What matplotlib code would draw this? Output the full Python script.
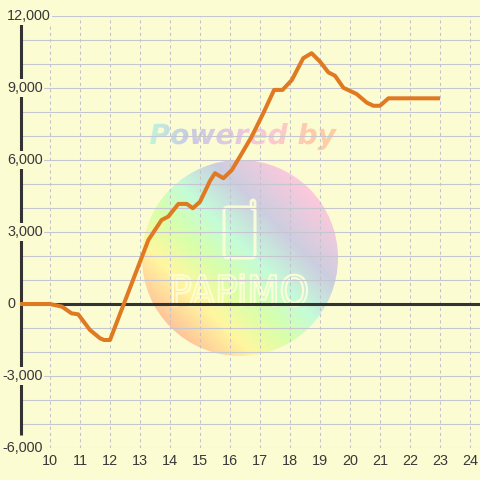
import numpy as np
import matplotlib
matplotlib.use('Agg')
import matplotlib.pyplot as plt
from matplotlib.patches import Circle, PathPatch, FancyBboxPatch
from matplotlib.textpath import TextPath
from matplotlib.font_manager import FontProperties
from matplotlib.transforms import Affine2D
from matplotlib.colors import to_rgb

# ---- data ----
hours = [9.0, 10.0, 10.4, 10.72, 10.94, 11.33, 11.67, 11.8, 12.0, 13.28, 13.72,
         13.94, 14.28, 14.56, 14.76, 15.0, 15.33, 15.5, 15.78, 16.06, 16.33,
         16.72, 17.11, 17.47, 17.75, 18.06, 18.44, 18.72, 19.0, 19.28, 19.5,
         19.78, 20.22, 20.56, 20.78, 21.0, 21.28, 23.0]
profit = [0, 0, -110, -390, -430, -1080, -1430, -1500, -1500, 2670, 3500,
          3640, 4170, 4170, 3990, 4260, 5120, 5450, 5240, 5580, 6140,
          6970, 7950, 8920, 8920, 9330, 10240, 10450, 10100, 9650, 9510,
          9010, 8750, 8390, 8260, 8260, 8570, 8570]
x_ticks = list(range(10, 25))
y_label_values = [-6000, -3000, 0, 3000, 6000, 9000, 12000]

BG = '#FCFCD3'
TXT = '#383838'
FONT = 'Liberation Sans'

fig = plt.figure(figsize=(4.8, 4.8), dpi=100, facecolor=BG)

# ---- watermark layer (pixel coordinates) ----
wax = fig.add_axes([0, 0, 1, 1], zorder=0)
wax.axis('off')
wax.patch.set_alpha(0)


def gradient(stops, s):
    pos = np.array([p for p, _ in stops])
    cols = np.array([to_rgb(c) for _, c in stops])
    out = np.zeros(s.shape + (3,))
    for k in range(3):
        out[..., k] = np.interp(s, pos, cols[:, k])
    return out

cx, cy, R = 240, 258, 98
N = 300
px = np.linspace(cx - R, cx + R, N)
py = np.linspace(cy - R, cy + R, N)
PX, PY = np.meshgrid(px, py)
u = ((PX - cx) - (PY - cy)) / np.sqrt(2) / R
s = (u + 1) / 2
circ_stops = [(0.0, '#FFC498'), (0.2, '#FFF7A0'), (0.38, '#D8FFAA'),
              (0.55, '#C4FCD8'), (0.75, '#CCCEE0'), (1.0, '#FFC8DC')]
img = gradient(circ_stops, s)
circ = Circle((cx, cy), R, transform=wax.transData, fc='none', ec='none')
wax.add_patch(circ)
im = wax.imshow(img, extent=(cx - R, cx + R, cy + R, cy - R), aspect='auto',
                interpolation='bilinear')
im.set_clip_path(circ)

# Powered by text with gradient fill
fp = FontProperties(family='DejaVu Sans', weight='bold', style='italic')
tp = TextPath((0, 0), 'Powered by', size=1, prop=fp)
ext = tp.get_extents()
x0, x1, y0, y1 = 150, 337, 123, 150
tr = Affine2D().translate(-ext.x0, -ext.y1).scale((x1 - x0) / ext.width,
                                                   -(y1 - y0) / ext.height).translate(x0, y0)
pp = PathPatch(tr.transform_path(tp), fc='none', ec='none', transform=wax.transData)
wax.add_patch(pp)
tx = np.linspace(0, 1, 400)[None, :].repeat(10, axis=0)
txt_stops = [(0.0, '#C0F4DC'), (0.2, '#C8CCE4'), (0.45, '#E6C8E0'),
             (0.65, '#FCC8D4'), (0.85, '#FFCCAC'), (1.0, '#FFCCA0')]
im2 = wax.imshow(gradient(txt_stops, tx), extent=(x0, x1, y1, y0), aspect='auto')
im2.set_clip_path(pp)

# logo: phone icon + letters
CREAM = '#FFFFD6'
wax.add_patch(FancyBboxPatch((224, 207), 31, 51,
                             boxstyle='round,pad=0,rounding_size=4',
                             fc='none', ec=CREAM, lw=2.2, alpha=0.9))
wax.add_patch(FancyBboxPatch((251, 200), 4, 9,
                             boxstyle='round,pad=0,rounding_size=2',
                             fc='none', ec=CREAM, lw=2.0, alpha=0.9))
tp2 = TextPath((0, 0), 'PAPiMO', size=1, prop=FontProperties(family='DejaVu Sans'))
e2 = tp2.get_extents()
lx0, lx1, ly0, ly1 = 173, 307, 274, 306
tr2 = Affine2D().translate(-e2.x0, -e2.y1).scale((lx1 - lx0) / e2.width,
                                                 -(ly1 - ly0) / e2.height).translate(lx0, ly0)
wax.add_patch(PathPatch(tr2.transform_path(tp2), fc='none', ec=CREAM, lw=1.6,
                        alpha=0.9, transform=wax.transData))
wax.set_xlim(0, 480)
wax.set_ylim(480, 0)

# ---- main chart ----
ax = fig.add_axes([20 / 480, 32 / 480, 460 / 480, 432 / 480], zorder=1)
ax.patch.set_visible(False)
ax.set_xlim(9, 9 + 460 / 30)
ax.set_ylim(-6000, 12000)
for sp in ax.spines.values():
    sp.set_visible(False)

ax.set_yticks(range(-6000, 12001, 1000))
ax.yaxis.grid(True, color='#C6C6D0', lw=0.8)
ax.tick_params(axis='y', length=0, labelleft=False)

ax.set_xticks(x_ticks)
ax.set_xticklabels([str(v) for v in x_ticks], fontsize=10.4, color=TXT,
                   family=FONT)
ax.xaxis.grid(True, color='#C2C2CC', lw=0.75, linestyle=(0, (3, 3)))
ax.tick_params(axis='x', length=0, pad=4.5)
ax.set_axisbelow(True)

ax.axhline(0, color='#333333', lw=2.2, zorder=3)
ax.plot([9.02, 9.02], [11667, -5458], color='#333333', lw=2.2, zorder=3,
        clip_on=False, solid_capstyle='butt')

ax.plot(hours, profit, color='#E07A22', lw=2.9, zorder=4,
        solid_joinstyle='round', solid_capstyle='butt')

for v in y_label_values:
    xpix = 2 if v < 0 else 7
    ax.text(9 + (xpix - 20) / 30, v, f'{v:,}', ha='left', va='center',
            fontsize=10.4, family=FONT, color=TXT, zorder=6, clip_on=False,
            bbox=dict(boxstyle='square,pad=0.12', fc=BG, ec='none'))

fig.savefig('out.png', dpi=100, facecolor=BG)
